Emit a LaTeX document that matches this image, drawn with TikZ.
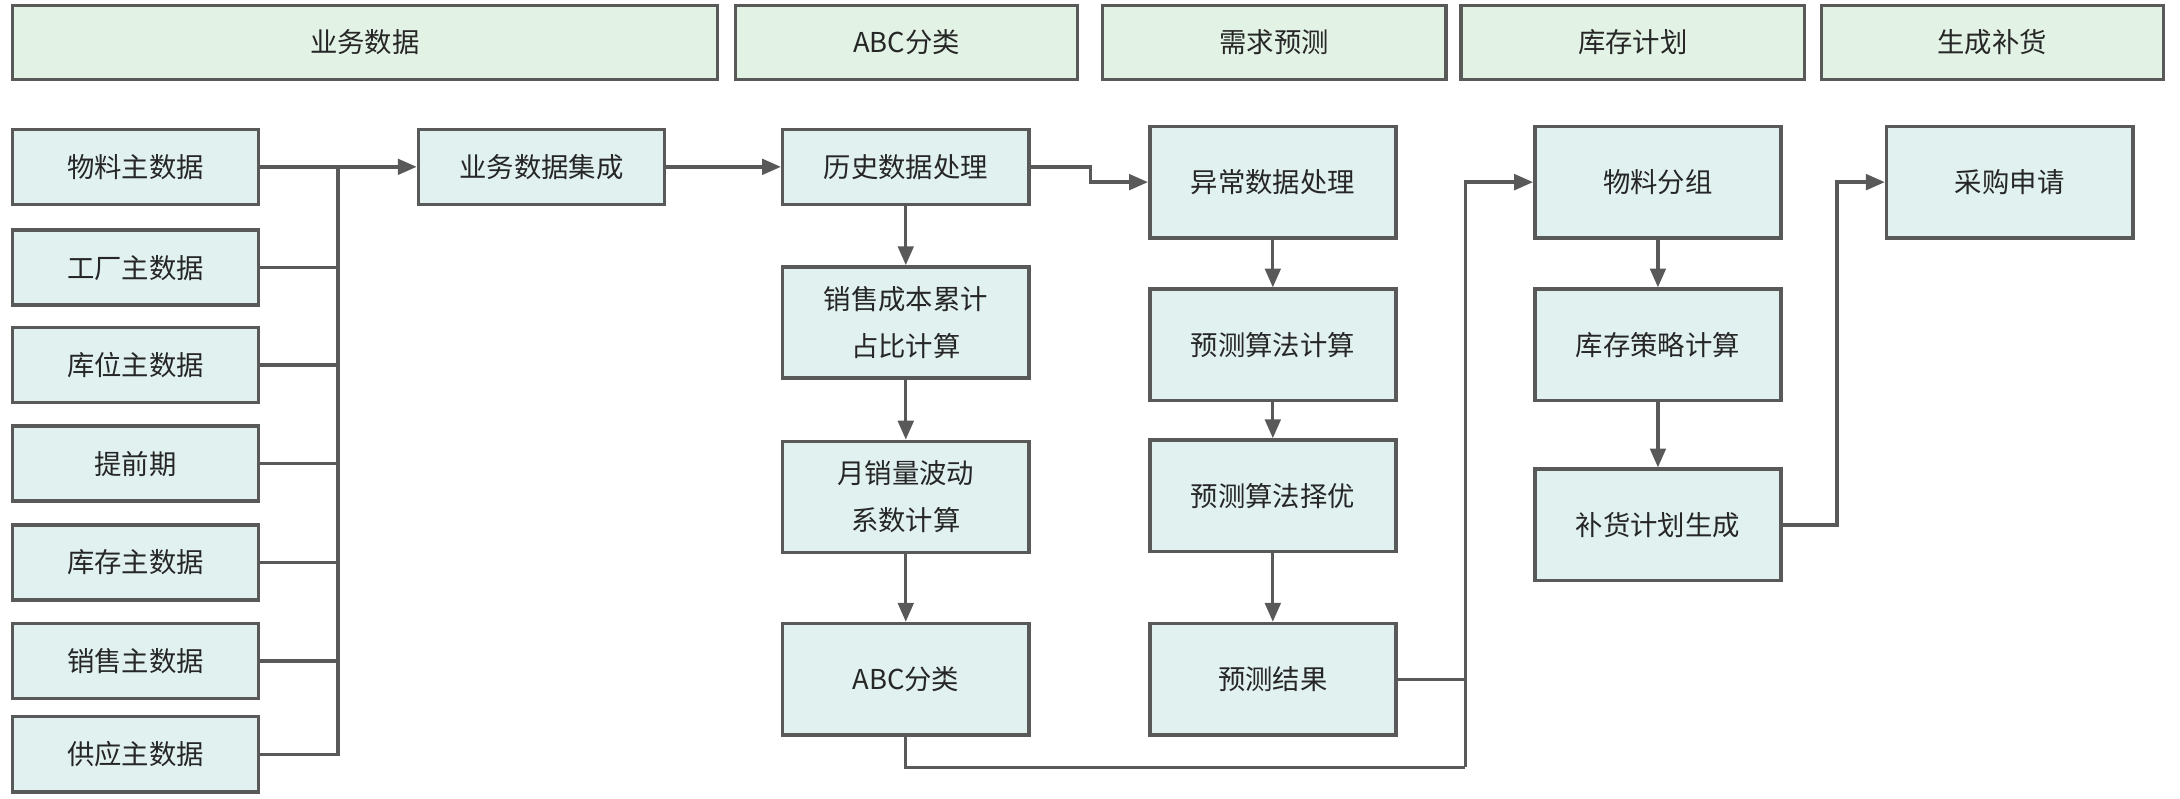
\documentclass[tikz,border=0pt]{standalone}
\usepackage{fontspec}
\setmainfont{Noto Sans CJK SC}
\usepackage{xcolor}
\usepackage{tikz}
\usetikzlibrary{arrows.meta,positioning,calc}

\definecolor{edgegray}{HTML}{595959}
\definecolor{boxfill}{HTML}{E0F1F0}
\definecolor{headfill}{HTML}{E2F2E5}
\definecolor{txtgray}{HTML}{262626}

\begin{document}
\begin{tikzpicture}[
  x=0.025cm, y=-0.025cm,
  font=\fontsize{14}{24}\selectfont,
  text=txtgray,
  box/.style={draw=edgegray, line width=1.8pt, fill=boxfill, align=center,
              inner sep=0pt, minimum width=4.425cm, minimum height=1.35cm},
  tall/.style={box, minimum height=2cm},
  head/.style={draw=edgegray, line width=1.8pt, fill=headfill,
               inner sep=0pt, minimum height=1.325cm},
  line/.style={draw=edgegray, line width=1.7pt},
  arr/.style={line, -{Triangle[length=3.4mm, width=2.8mm]}},
]
\useasboundingbox (0,0) rectangle (1568,574);

% stage headers
\node[head, minimum width=12.675cm] (h1) at (262.5,30.5) {业务数据};
\node[head, minimum width=6.15cm] (h2) at (652,30.5) {ABC分类};
\node[head, minimum width=6.175cm] (h3) at (916.5,30.5) {需求预测};
\node[head, minimum width=6.175cm] (h4) at (1174.5,30.5) {库存计划};
\node[head, minimum width=6.15cm] (h5) at (1433,30.5) {生成补货};

% master data
\node[box] (m1) at (97.5,120) {物料主数据};
\node[box] (m2) at (97.5,192.5) {工厂主数据};
\node[box] (m3) at (97.5,262.5) {库位主数据};
\node[box] (m4) at (97.5,333.5) {提前期};
\node[box] (m5) at (97.5,404.5) {库存主数据};
\node[box] (m6) at (97.5,475.5) {销售主数据};
\node[box] (m7) at (97.5,542.5) {供应主数据};
\node[box] (integ) at (389.5,120) {业务数据集成};

% ABC classification
\node[box] (hist) at (651.5,120) {历史数据处理};
\node[tall] (cost) at (651.5,232) {销售成本累计\\占比计算};
\node[tall] (vol) at (651.5,357.5) {月销量波动\\系数计算};
\node[tall] (abc) at (651.5,488.5) {ABC分类};

% forecast
\node[tall] (anom) at (915.5,131) {异常数据处理};
\node[tall] (calc) at (915.5,248) {预测算法计算};
\node[tall] (best) at (915.5,356.5) {预测算法择优};
\node[tall] (result) at (915.5,488.5) {预测结果};

% inventory plan and replenishment
\node[tall] (group) at (1192.5,131) {物料分组};
\node[tall] (policy) at (1192.5,248) {库存策略计算};
\node[tall] (plan) at (1192.5,377.5) {补货计划生成};
\node[tall] (pr) at (1445.5,131) {采购申请};

\coordinate (bus) at (243,120);
\coordinate (join) at (1054,552);

\draw[arr] (m1) -- (integ);
\foreach \m in {m2,m3,m4,m5,m6,m7}
  \draw[line] (\m.east) -| (bus);
\draw[arr] (integ) -- (hist);
\draw[arr] (hist.east) -- ++(43,0) |- (anom.west);
\draw[arr] (hist) -- (cost);
\draw[arr] (cost) -- (vol);
\draw[arr] (vol) -- (abc);
\draw[arr] (anom) -- (calc);
\draw[arr] (calc) -- (best);
\draw[arr] (best) -- (result);
\draw[line] (abc.south) |- (join);
\draw[line] (result.east) -- (result.east -| join);
\draw[arr] (join) |- (group.west);
\draw[arr] (group) -- (policy);
\draw[arr] (policy) -- (plan);
\draw[arr] (plan.east) -- ++(39,0) |- (pr.west);
\end{tikzpicture}
\end{document}
